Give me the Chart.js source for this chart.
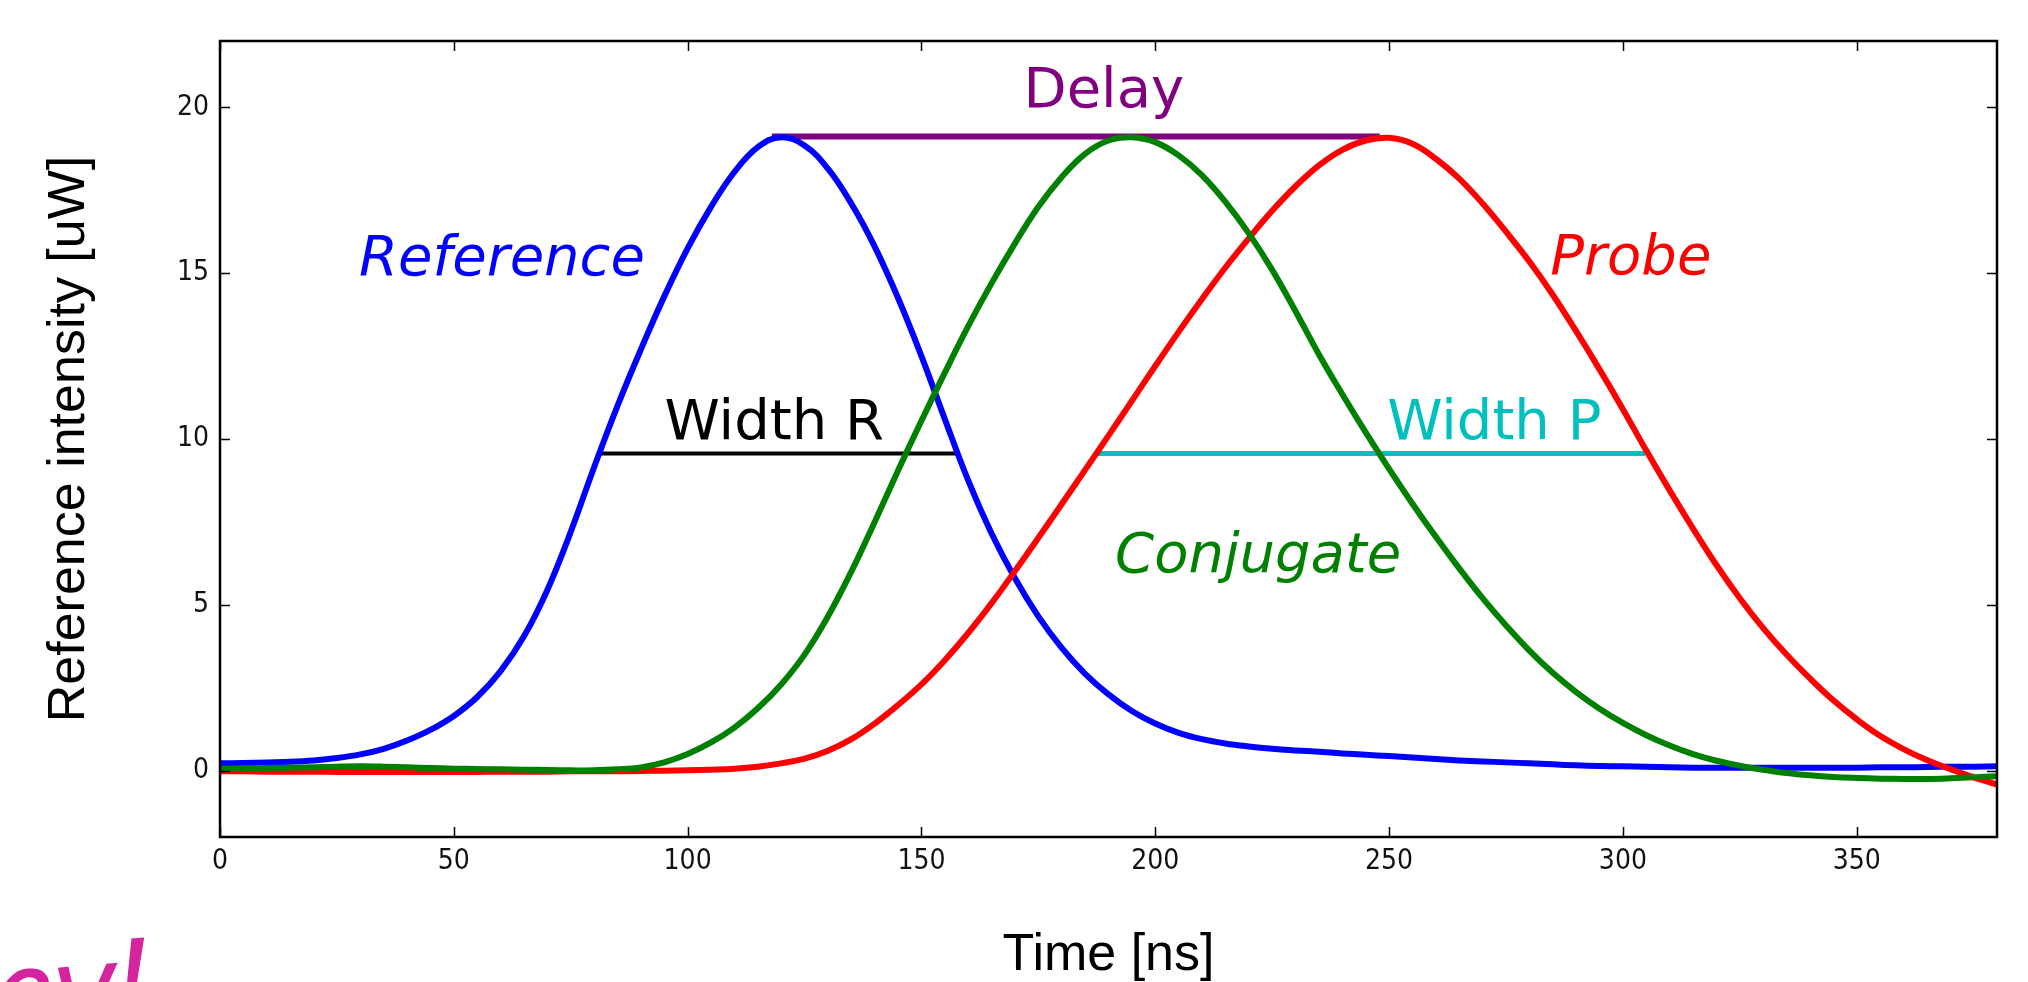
<!DOCTYPE html>
<html>
<head>
<meta charset="utf-8">
<script src="https://cdn.jsdelivr.net/npm/chart.js@4.4.1/dist/chart.umd.min.js"></script>
<style>
  html, body { margin: 0; padding: 0; background: #fff; }
</style>
</head>
<body>
<canvas id="chart" width="2028" height="982"></canvas>
<script>
// time axis, ns
const timeNs = [
  0, 5, 10, 15, 20, 25, 30, 35, 40, 45, 50, 55, 60, 65, 70, 75, 80, 85, 90, 95,
  100, 105, 110, 115, 120, 125, 130, 135, 140, 145, 150, 155, 160, 165, 170, 175, 180, 185, 190, 195,
  200, 205, 210, 215, 220, 225, 230, 235, 240, 245, 250, 255, 260, 265, 270, 275, 280, 285, 290, 295,
  300, 305, 310, 315, 320, 325, 330, 335, 340, 345, 350, 355, 360, 365, 370, 375, 380
];

// uW
const reference = [
  0.22, 0.23, 0.25, 0.27, 0.31, 0.38, 0.49, 0.66, 0.91, 1.23, 1.65, 2.22, 3.0, 4.05, 5.45, 7.2, 9.15, 11.0, 12.7, 14.3,
  15.75, 17.0, 18.05, 18.8, 19.1, 18.85, 18.15, 17.1, 15.8, 14.25, 12.5, 10.6, 8.75, 7.15, 5.8, 4.65, 3.7, 2.92, 2.3, 1.8,
  1.42, 1.14, 0.95, 0.82, 0.73, 0.66, 0.61, 0.57, 0.52, 0.48, 0.44, 0.4, 0.35, 0.31, 0.28, 0.25, 0.22, 0.19, 0.16, 0.14,
  0.13, 0.12, 0.1, 0.09, 0.09, 0.09, 0.09, 0.09, 0.09, 0.09, 0.09, 0.1, 0.1, 0.11, 0.12, 0.12, 0.13
];
const conjugate = [
  0.06, 0.07, 0.08, 0.09, 0.1, 0.12, 0.13, 0.12, 0.1, 0.08, 0.06, 0.05, 0.04, 0.03, 0.02, 0.01, 0.01, 0.04, 0.1, 0.25,
  0.5, 0.85, 1.3, 1.88, 2.6, 3.5, 4.65, 6.0, 7.5, 9.05, 10.55, 12.0, 13.4, 14.7, 15.9, 17.0, 17.9, 18.6, 19.0, 19.1,
  18.95, 18.55, 17.95, 17.15, 16.2, 15.1, 13.85, 12.55, 11.35, 10.2, 9.1, 8.05, 7.05, 6.1, 5.2, 4.38, 3.62, 2.95, 2.37, 1.87,
  1.44, 1.07, 0.76, 0.5, 0.3, 0.15, 0.03, -0.07, -0.14, -0.19, -0.22, -0.24, -0.25, -0.25, -0.23, -0.2, -0.17
];
const probe = [
  -0.02, -0.02, -0.03, -0.03, -0.03, -0.04, -0.04, -0.04, -0.04, -0.04, -0.04, -0.04, -0.03, -0.03, -0.03, -0.02, -0.02, -0.02, -0.01, 0.0,
  0.01, 0.03, 0.06, 0.12, 0.22, 0.36, 0.6, 0.95, 1.42, 1.98, 2.6, 3.33, 4.15, 5.05, 6.02, 7.02, 8.04, 9.07, 10.1, 11.15,
  12.2, 13.23, 14.22, 15.17, 16.05, 16.88, 17.62, 18.25, 18.72, 19.0, 19.08, 18.9, 18.45, 17.85, 17.1, 16.25, 15.35, 14.35, 13.25, 12.1,
  10.9, 9.65, 8.45, 7.3, 6.2, 5.2, 4.3, 3.5, 2.78, 2.12, 1.55, 1.05, 0.65, 0.32, 0.05, -0.2, -0.42
];

// marker lines: [start, end] in ns, level in uW
const delaySpan = [118, 248];
const delayLevel = 19.12;
const widthRSpan = [81, 157.4];
const widthPSpan = [187.6, 304.8];
const halfLevel = 9.56;

const xTicks = [0, 50, 100, 150, 200, 250, 300, 350];
const yTicks = [0, 5, 10, 15, 20];

const labels = [
  { text: 'Reference', x: 60.3, y: 14.95, color: '#0000ff', italic: true },
  { text: 'Probe', x: 301.7, y: 14.98, color: '#ff0000', italic: true },
  { text: 'Conjugate', x: 222, y: 6.0, color: '#008000', italic: true },
  { text: 'Width R', x: 118.5, y: 10.0, color: '#000000', italic: false },
  { text: 'Width P', x: 272.5, y: 10.0, color: '#00bfbf', italic: false },
  { text: 'Delay', x: 189, y: 20.0, color: '#800080', italic: false }
];

const toPoints = (xs, ys) => xs.map((x, i) => ({ x: x, y: ys[i] }));
const flat = (span, level) => span.map(x => ({ x: x, y: level }));

const curve = (label, values, color, order) => ({
  label: label,
  data: toPoints(timeNs, values),
  borderColor: color,
  borderWidth: 6,
  pointRadius: 0,
  tension: 0.4,
  order: order
});
const marker = (label, span, level, color, width) => ({
  label: label,
  data: flat(span, level),
  borderColor: color,
  borderWidth: width,
  pointRadius: 0,
  borderCapStyle: 'butt',
  order: 5
});

const framePlugin = {
  id: 'frame',
  afterDatasetsDraw(chart) {
    const { ctx, scales: { x, y } } = chart;
    ctx.save();
    ctx.textAlign = 'center';
    ctx.textBaseline = 'alphabetic';
    labels.forEach(l => {
      ctx.font = (l.italic ? 'italic ' : '') + '56px "DejaVu Sans"';
      ctx.fillStyle = l.color;
      ctx.fillText(l.text, x.getPixelForValue(l.x), y.getPixelForValue(l.y));
    });
    ctx.restore();
  },
  afterDraw(chart) {
    const { ctx, chartArea: a, scales: { x, y } } = chart;
    ctx.save();
    ctx.strokeStyle = '#000';
    ctx.lineWidth = 1.5;
    ctx.beginPath();
    x.ticks.forEach(t => {
      const px = Math.round(x.getPixelForValue(t.value)) + 0.5;
      ctx.moveTo(px, a.bottom); ctx.lineTo(px, a.bottom - 10);
      ctx.moveTo(px, a.top); ctx.lineTo(px, a.top + 10);
    });
    y.ticks.forEach(t => {
      const py = Math.round(y.getPixelForValue(t.value)) + 0.5;
      ctx.moveTo(a.left, py); ctx.lineTo(a.left + 10, py);
      ctx.moveTo(a.right, py); ctx.lineTo(a.right - 10, py);
    });
    ctx.stroke();
    ctx.lineWidth = 2.5;
    ctx.strokeRect(a.left, a.top, a.right - a.left, a.bottom - a.top);

    // scribble in the corner
    ctx.translate(150, 1030);
    ctx.rotate(-0.08);
    ctx.fillStyle = '#d6249f';
    ctx.font = 'italic 130px "Open Sans"';
    ctx.textAlign = 'right';
    ctx.fillText('hey!', 0, 0);
    ctx.restore();
  }
};

const tickFont = { family: '"DejaVu Sans Condensed", "DejaVu Sans"', size: 28 };
const titleFont = { family: 'Liberation Sans', size: 52, lineHeight: 1 };

new Chart(document.getElementById('chart'), {
  type: 'line',
  data: {
    datasets: [
      curve('Conjugate', conjugate, '#008000', 1),
      curve('Probe', probe, '#ff0000', 2),
      curve('Reference', reference, '#0000ff', 3),
      marker('Delay', delaySpan, delayLevel, '#800080', 6),
      marker('Width R', widthRSpan, halfLevel, '#000000', 4),
      marker('Width P', widthPSpan, halfLevel, '#00bfbf', 5)
    ]
  },
  options: {
    responsive: false,
    animation: false,
    devicePixelRatio: 1,
    layout: { padding: { left: 0, top: 41, right: 31, bottom: 0 } },
    plugins: { legend: { display: false }, tooltip: { enabled: false } },
    scales: {
      x: {
        type: 'linear',
        min: 0,
        max: 380,
        afterBuildTicks: s => { s.ticks = xTicks.map(v => ({ value: v })); },
        afterFit: s => { s.height = 145; },
        grid: { display: false, drawTicks: false },
        border: { display: false },
        ticks: { font: tickFont, color: '#111', padding: 8, maxRotation: 0, autoSkip: false },
        title: { display: true, text: 'Time [ns]', font: titleFont, color: '#000', padding: { top: 0, bottom: 0 } }
      },
      y: {
        type: 'linear',
        min: -2,
        max: 22,
        afterBuildTicks: s => { s.ticks = yTicks.map(v => ({ value: v })); },
        afterFit: s => { s.width = 220; },
        grid: { display: false, drawTicks: false },
        border: { display: false },
        ticks: { font: tickFont, color: '#111', padding: 11 },
        title: { display: true, text: 'Reference intensity [uW]', font: titleFont, color: '#000', padding: { top: 44, bottom: 0 } }
      }
    }
  },
  plugins: [framePlugin]
});
</script>
</body>
</html>
